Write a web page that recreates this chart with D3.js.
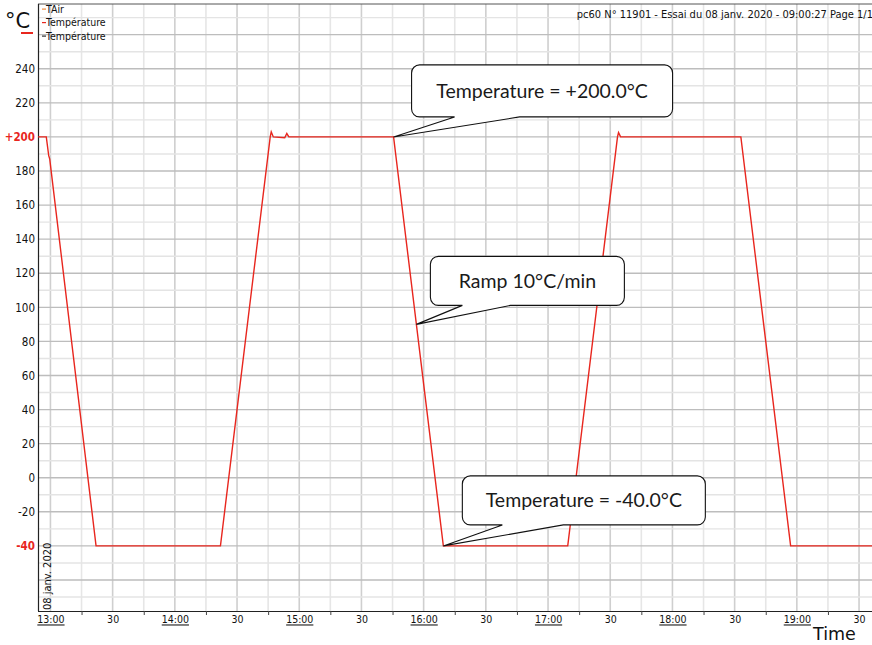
<!DOCTYPE html>
<html>
<head>
<meta charset="utf-8">
<script src="https://cdn.jsdelivr.net/npm/d3@7/dist/d3.min.js"></script>
<style>
  body { margin: 0; background: #fff; }
  svg { display: block; }
  .small { font-family: "DejaVu Sans Condensed", "DejaVu Sans", sans-serif; }
  .narrow { font-family: "Liberation Sans Narrow", "DejaVu Sans Condensed", sans-serif; }
  .callout { font-family: Lato, "Open Sans", sans-serif; }
</style>
</head>
<body>
<div></div>
<script>
// recorded temperature (°C) against clock time
var times = ["12:54:00", "12:58:00", "12:59:10", "12:59:40", "13:22:00", "14:22:00",
             "14:46:00", "14:46:30", "14:47:30", "14:53:00", "14:54:00", "14:55:00",
             "15:45:30", "16:09:30", "17:09:30", "17:33:30", "17:34:00", "17:35:00",
             "18:33:00", "18:57:00", "19:36:30"];
var temps = [200, 200, 189, 187, -40, -40,
             200, 203, 200, 199.5, 202, 200,
             200, -40, -40, 200, 202.5, 200,
             200, -40, -40];

var yTicks = [240, 220, 200, 180, 160, 140, 120, 100, 80, 60, 40, 20, 0, -20, -40];
var xLabelTimes = ["13:00", "13:30", "14:00", "14:30", "15:00", "15:30", "16:00",
                   "16:30", "17:00", "17:30", "18:00", "18:30", "19:00", "19:30"];

var legendNames = ["TAir", "Température", "Température"];

var calloutTexts = ["Temperature = +200.0°C", "Ramp 10°C/min", "Temperature = -40.0°C"];
var calloutTimes = ["15:45:30", "15:56:30", "16:09:30"];
var calloutValues = [200, 90, -40];

var width = 872, height = 645;
var pLeft = 38, pRight = 872, pTop = 4, pBottom = 611;
var red = "#e8261e";

var parseHMS = d3.timeParse("%H:%M:%S");
var parseHM = d3.timeParse("%H:%M");

var svg = d3.select("div").append("svg")
    .attr("width", width)
    .attr("height", height);

var x = d3.scaleTime()
    .domain([parseHMS("12:54:00"), parseHMS("19:36:15")])
    .range([pLeft, pRight]);
var y = d3.scaleLinear()
    .domain([-78.2, 278])
    .range([pBottom, pTop]);

// grid
var grid = svg.append("g");
var quarters = [];
for (var t = parseHM("13:00"); x(t) < pRight; t = d3.timeMinute.offset(t, 15)) quarters.push(t);
grid.selectAll(".vg").data(quarters).enter().append("line")
    .attr("x1", function(d) { return x(d); })
    .attr("x2", function(d) { return x(d); })
    .attr("y1", pTop).attr("y2", pBottom)
    .attr("stroke", function(d) { return d.getMinutes() % 30 === 0 ? "#cfcfcf" : "#e6e6e6"; })
    .attr("stroke-width", 1.6);

var tens = d3.range(-70, 280, 10);
grid.selectAll(".hg").data(tens).enter().append("line")
    .attr("x1", pLeft).attr("x2", pRight)
    .attr("y1", function(d) { return y(d); })
    .attr("y2", function(d) { return y(d); })
    .attr("stroke", function(d) { return d % 20 === 0 ? "#bdbdbd" : "#e4e4e4"; })
    .attr("stroke-width", 1.4);

// frame
svg.append("line").attr("x1", pLeft).attr("x2", pRight).attr("y1", pTop).attr("y2", pTop)
    .attr("stroke", "#555").attr("stroke-width", 1);

// axes
var yAxis = svg.append("g")
    .attr("transform", "translate(" + pLeft + ",0)")
    .call(d3.axisLeft(y).tickValues(yTicks).tickSize(0).tickPadding(3)
        .tickFormat(function(d) { return d === 200 ? "+200" : d; }));
yAxis.select(".domain").attr("stroke", "#222").attr("stroke-width", 1.2)
    .attr("d", "M0.5," + pTop + "V" + pBottom);
yAxis.selectAll("text")
    .attr("class", "narrow")
    .attr("font-size", 11.5)
    .attr("fill", function(d) { return (d === 200 || d === -40) ? red : "#111"; })
    .attr("font-weight", function(d) { return (d === 200 || d === -40) ? "bold" : "normal"; });

var xTicks = xLabelTimes.map(function(s) { return parseHM(s); });
var xAxis = svg.append("g")
    .attr("transform", "translate(0," + pBottom + ")")
    .call(d3.axisBottom(x).tickValues(xTicks).tickSize(0).tickPadding(5)
        .tickFormat(function(d) { return d.getMinutes() === 0 ? d3.timeFormat("%H:%M")(d) : "30"; }));
xAxis.select(".domain").attr("stroke", "#222").attr("stroke-width", 1.2)
    .attr("d", "M" + pLeft + ",0.5H" + pRight);
xAxis.selectAll("text")
    .attr("class", "small")
    .attr("font-size", 10.5)
    .attr("fill", "#111")
    .attr("text-decoration", function(d) { return d.getMinutes() === 0 ? "underline" : null; });

var minorTicks = xTicks.map(function(d) { return d3.timeMinute.offset(d, 15); })
    .filter(function(d) { return x(d) < pRight; });
svg.append("g")
    .attr("transform", "translate(0," + pBottom + ")")
    .call(d3.axisBottom(x).tickValues(minorTicks).tickSize(4).tickFormat(""))
    .call(function(g) { g.select(".domain").remove(); })
    .selectAll("line").attr("stroke", "#444");

// series
svg.append("clipPath").attr("id", "plot")
    .append("rect").attr("x", pLeft).attr("y", pTop)
    .attr("width", pRight - pLeft).attr("height", pBottom - pTop);

var series = times.map(function(s, i) { return { t: parseHMS(s), v: temps[i] }; });
var line = d3.line()
    .x(function(d) { return x(d.t); })
    .y(function(d) { return y(d.v); });
svg.append("path")
    .datum(series)
    .attr("clip-path", "url(#plot)")
    .attr("d", line)
    .attr("fill", "none")
    .attr("stroke", red)
    .attr("stroke-width", 1.4);

// callouts
var boxes = [
    { dx: 18, dy: -72, w: 261, h: 52, t1: 61, t2: 126 },
    { dx: 14, dy: -68, w: 194, h: 49, t1: 46, t2: 94 },
    { dx: 19, dy: -70, w: 243, h: 49, t1: 59, t2: 120 }
];
function calloutPath(ax, ay, b) {
    var r = 8, bx = ax + b.dx, by = ay + b.dy, w = b.w, h = b.h;
    return "M" + (bx + r) + "," + by +
        "H" + (bx + w - r) + "A" + r + "," + r + " 0 0 1 " + (bx + w) + "," + (by + r) +
        "V" + (by + h - r) + "A" + r + "," + r + " 0 0 1 " + (bx + w - r) + "," + (by + h) +
        "H" + (ax + b.t2) + "L" + ax + "," + ay + "L" + (ax + b.t1) + "," + (by + h) +
        "H" + (bx + r) + "A" + r + "," + r + " 0 0 1 " + bx + "," + (by + h - r) +
        "V" + (by + r) + "A" + r + "," + r + " 0 0 1 " + (bx + r) + "," + by + "Z";
}
calloutTexts.forEach(function(txt, i) {
    var ax = x(parseHMS(calloutTimes[i])), ay = y(calloutValues[i]), b = boxes[i];
    svg.append("path")
        .attr("d", calloutPath(ax, ay, b))
        .attr("fill", "#fff")
        .attr("stroke", "#111")
        .attr("stroke-width", 1.1);
    svg.append("text")
        .attr("class", "callout")
        .attr("x", ax + b.dx + b.w / 2)
        .attr("y", ay + b.dy + b.h / 2)
        .attr("dy", "0.36em")
        .attr("text-anchor", "middle")
        .attr("font-size", 19.5)
        .attr("fill", "#1a1a1a")
        .text(txt);
});

// unit, legend, header
svg.append("text").attr("x", 5).attr("y", 28)
    .attr("font-family", "DejaVu Sans, sans-serif").attr("font-size", 21)
    .attr("fill", "#111").text("°C");
svg.append("rect").attr("x", 21).attr("y", 32).attr("width", 12).attr("height", 2).attr("fill", red);

var legendColors = ["#f08a3c", red, "#333"];
legendNames.forEach(function(name, i) {
    var ly = 12.5 + i * 13.5;
    svg.append("rect").attr("x", 42).attr("y", ly - 4).attr("width", 4).attr("height", 1.2)
        .attr("fill", legendColors[i]);
    svg.append("text").attr("class", "small").attr("x", 46).attr("y", ly)
        .attr("font-size", 10.5).attr("fill", "#111").text(name);
});

svg.append("text").attr("class", "small")
    .attr("x", 873).attr("y", 18).attr("text-anchor", "end")
    .attr("font-size", 11).attr("fill", "#111")
    .text("pc60 N° 11901 - Essai du 08 janv. 2020 - 09:00:27  Page 1/1");

svg.append("text").attr("class", "small")
    .attr("transform", "translate(51,610) rotate(-90)")
    .attr("font-size", 11).attr("fill", "#111")
    .text("08 janv. 2020");

svg.append("text").attr("x", 813).attr("y", 640)
    .attr("font-family", "DejaVu Sans, sans-serif").attr("font-size", 17.5)
    .attr("fill", "#111").text("Time");
</script>
</body>
</html>
